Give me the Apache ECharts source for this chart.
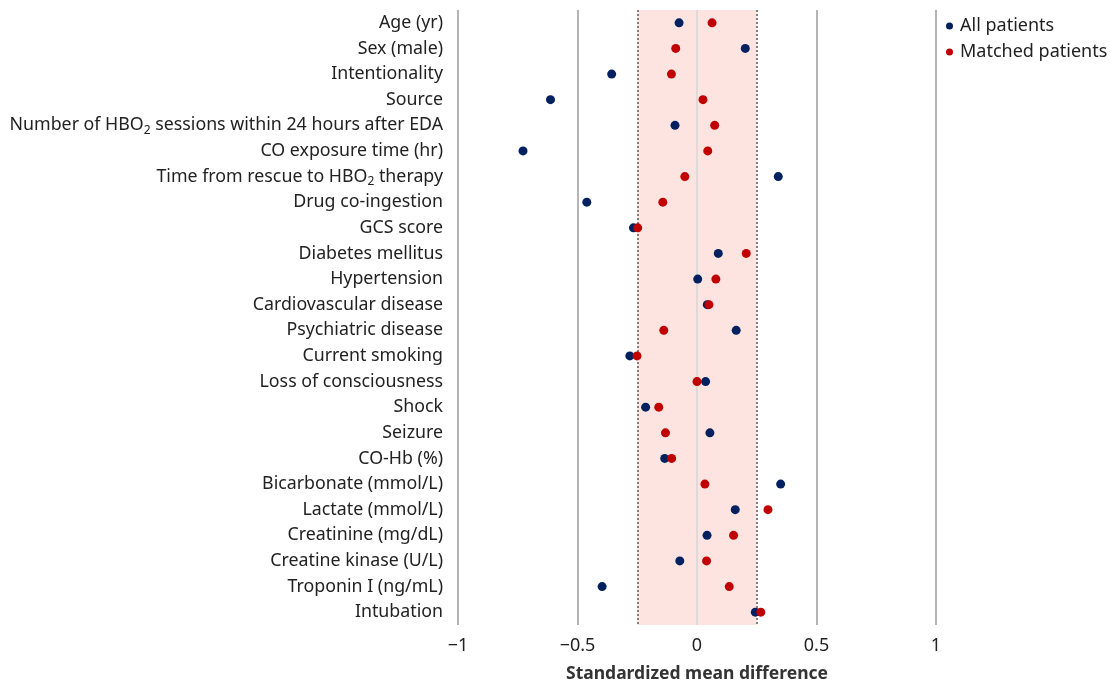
<!DOCTYPE html>
<html>
<head>
<meta charset="utf-8">
<script src="https://cdn.jsdelivr.net/npm/echarts@6/dist/echarts.min.js"></script>
<style>html,body{margin:0;padding:0;background:#fff}#c{width:1110px;height:687px}</style>
</head>
<body>
<div id="c"></div>
<script>
const categories = [
  "Age (yr)", "Sex (male)", "Intentionality", "Source",
  "Number of HBO{sub|2} sessions within 24 hours after EDA",
  "CO exposure time (hr)", "Time from rescue to HBO{sub|2} therapy",
  "Drug co-ingestion", "GCS score", "Diabetes mellitus", "Hypertension",
  "Cardiovascular disease", "Psychiatric disease", "Current smoking",
  "Loss of consciousness", "Shock", "Seizure", "CO-Hb (%)",
  "Bicarbonate (mmol/L)", "Lactate (mmol/L)", "Creatinine (mg/dL)",
  "Creatine kinase (U/L)", "Troponin I (ng/mL)", "Intubation"
];
const allPatients = [
  -0.075, 0.202, -0.357, -0.613, -0.092, -0.728, 0.340, -0.461, -0.266,
  0.089, 0.003, 0.043, 0.164, -0.281, 0.036, -0.215, 0.054, -0.135,
  0.350, 0.160, 0.042, -0.072, -0.397, 0.244
];
const matchedPatients = [
  0.063, -0.089, -0.107, 0.025, 0.074, 0.045, -0.051, -0.143, -0.248,
  0.206, 0.079, 0.050, -0.139, -0.251, 0.000, -0.160, -0.132, -0.106,
  0.033, 0.297, 0.153, 0.040, 0.135, 0.267
];
const xTicks = [-1, -0.5, 0, 0.5, 1];
const seriesNames = ["All patients", "Matched patients"];

const FONT = "Noto Sans";
const chart = echarts.init(document.getElementById('c'), null, {renderer: 'canvas'});
chart.setOption({
  animation: false,
  textStyle: {fontFamily: FONT},
  grid: {left: 458, right: 174, top: 10, bottom: 62, containLabel: false, outerBoundsMode: 'none'},
  legend: {
    orient: 'vertical', left: 941, top: 12,
    icon: 'circle', itemWidth: 7, itemHeight: 7, itemGap: 8,
    textStyle: {fontSize: 18, color: '#222', fontFamily: FONT, padding: [0, 0, 0, 2]},
    data: seriesNames
  },
  xAxis: {
    type: 'value', min: xTicks[0], max: xTicks[xTicks.length - 1], interval: 0.5,
    axisLine: {show: false}, axisTick: {show: false},
    splitLine: {show: true, lineStyle: {color: '#b4b4b4', width: 2}},
    axisLabel: {
      fontSize: 18, color: '#222', margin: 12, fontFamily: FONT,
      formatter: v => (v < 0 ? '\u2212' + Math.abs(v) : String(v))
    },
    name: 'Standardized mean difference', nameLocation: 'middle', nameGap: 40,
    nameTextStyle: {fontSize: 17.5, fontWeight: 'bold', color: '#333', fontFamily: FONT}
  },
  yAxis: {
    type: 'category', data: categories, inverse: true,
    axisLine: {show: false}, axisTick: {show: false}, splitLine: {show: false},
    axisLabel: {
      fontSize: 17.8, color: '#222', margin: 15, fontFamily: FONT,
      rich: {sub: {fontSize: 12, color: '#222', verticalAlign: 'bottom', padding: [10, 0, 0, 0], fontFamily: FONT}}
    }
  },
  series: [
    {
      name: seriesNames[0], type: 'scatter', symbolSize: 9, z: 5,
      itemStyle: {color: '#002060', opacity: 1},
      data: allPatients.map((v, i) => [v, i]),
      markArea: {
        silent: true,
        itemStyle: {color: '#fde4e1'},
        data: [[{xAxis: -0.25}, {xAxis: 0.25}]]
      },
      markLine: {
        silent: true, symbol: 'none',
        label: {show: false},
        data: [
          {xAxis: -0.25, lineStyle: {type: [2, 2], color: '#808080', width: 2}},
          {xAxis: 0.25, lineStyle: {type: [2, 2], color: '#808080', width: 2}},
          {xAxis: 0, lineStyle: {type: 'solid', color: '#d6d6d6', width: 1.5}}
        ]
      }
    },
    {
      name: seriesNames[1], type: 'scatter', symbolSize: 9, z: 6,
      itemStyle: {color: '#c00000', opacity: 1},
      data: matchedPatients.map((v, i) => [v, i])
    }
  ]
});
</script>
</body>
</html>
